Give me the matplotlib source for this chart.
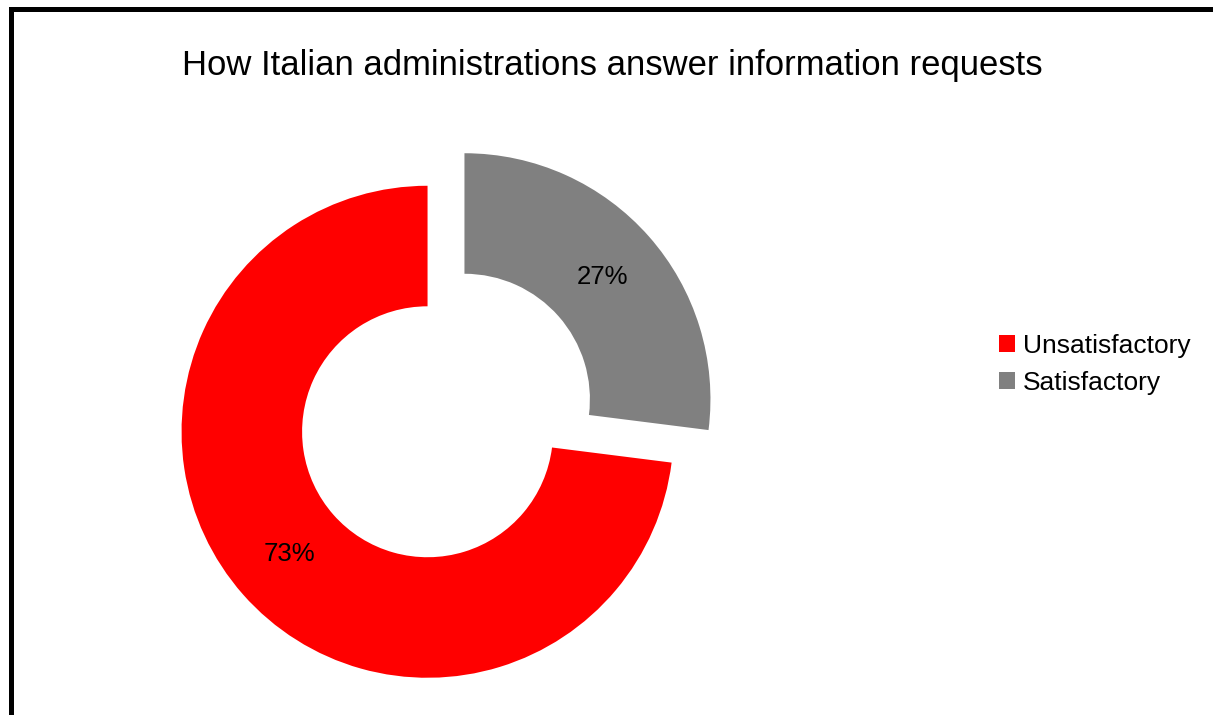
import matplotlib
matplotlib.use("Agg")
import matplotlib.pyplot as plt
from matplotlib.patches import Rectangle

plt.rcParams['font.family'] = ['Liberation Sans', 'DejaVu Sans']

title = "How Italian administrations answer information requests"
categories = ["Unsatisfactory", "Satisfactory"]
shares = [73, 27]
colors = ["#FF0000", "#808080"]

W, H, DPI = 1213, 715, 100
fig = plt.figure(figsize=(W / DPI, H / DPI), dpi=DPI)
fig.patch.set_facecolor("white")

# axes fill the figure; data units are scaled so one radius = 246 px
ax = fig.add_axes([0, 0, 1, 1])
scale = 246.0
cx, cy = 446.0, 415.5
wedges, _, autotexts = ax.pie(
    shares,
    colors=colors,
    explode=[0.1, 0.1],
    startangle=90,
    counterclock=True,
    radius=1.0,
    autopct='%1.0f%%',
    pctdistance=0.75,
    wedgeprops=dict(width=0.49, linewidth=0),
    textprops=dict(fontsize=18.5, color="black"),
)
ax.set_aspect('auto')
ax.set_xlim(-cx / scale, (W - cx) / scale)
ax.set_ylim((cy - H) / scale, cy / scale)
ax.axis('off')

fig.text(612.5 / W, 1 - 75 / H, title, ha='center', va='baseline',
         fontsize=24.9, color='black')

fig.legend(wedges, categories, loc='center left',
           bbox_to_anchor=(999 / W, 1 - 364.5 / H),
           frameon=False, fontsize=19, borderpad=0, borderaxespad=0,
           handlelength=0.6, handleheight=0.6, handletextpad=0.3,
           labelspacing=0.5)

# chart frame
x0, y0 = 10.5 / W, 1 - 9.5 / H
x1, y1 = 1214.5 / W, 1 - 716.5 / H
fig.add_artist(Rectangle((x0, y1), x1 - x0, y0 - y1, transform=fig.transFigure,
                         fill=False, edgecolor='black', linewidth=5 * 72 / DPI,
                         clip_on=False))

fig.savefig("out.png", dpi=DPI, facecolor="white")
